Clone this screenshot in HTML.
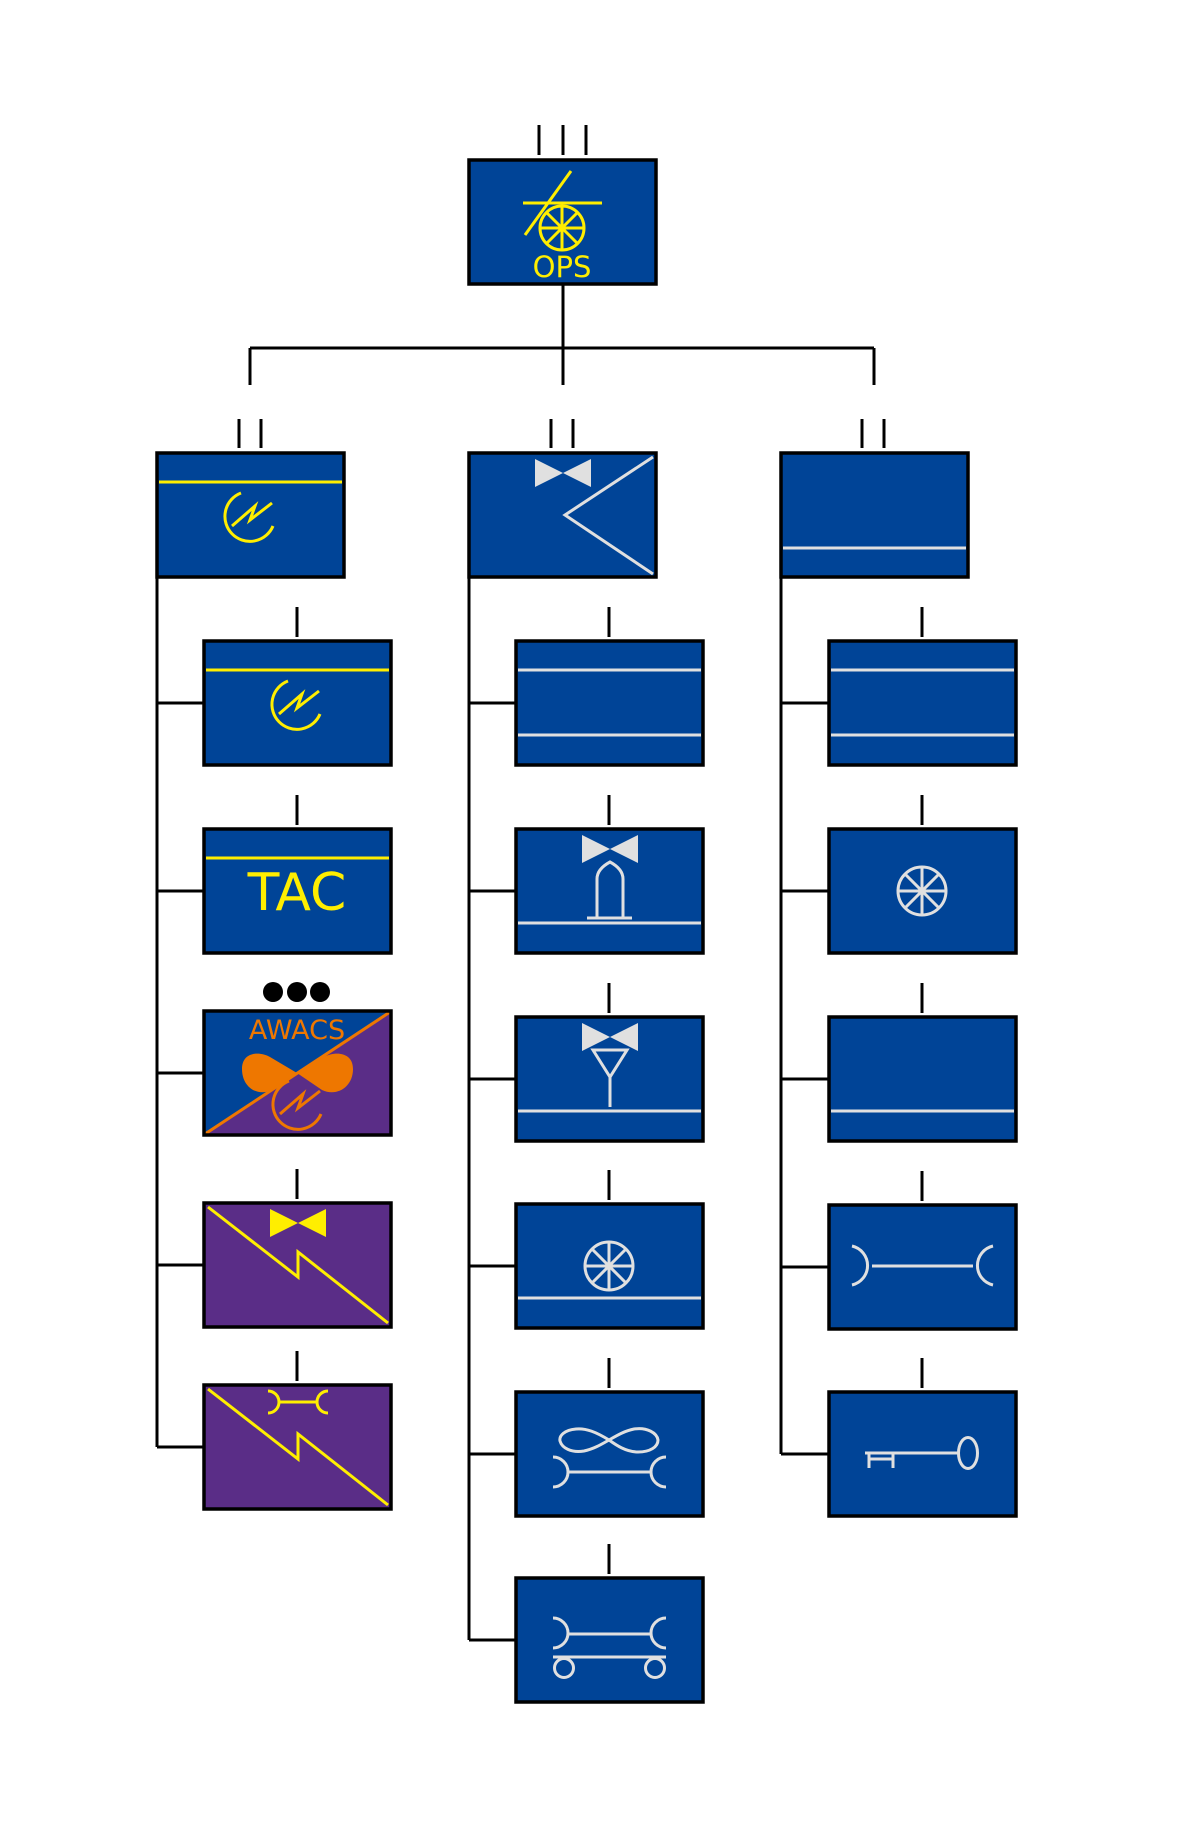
<!DOCTYPE html>
<html><head><meta charset="utf-8"><style>html,body{margin:0;padding:0;background:#fff}svg{display:block}</style></head>
<body>
<svg width="1188" height="1844" viewBox="0 0 1188 1844" xmlns="http://www.w3.org/2000/svg">
<defs>
<g id="ew"><path d="M84,40 A25,25 0 1 0 116,73" fill="none" stroke-width="3"/><path d="M75,73 L98,53 L93,67 L115,50" fill="none" stroke-width="3"/></g>
<g id="wheel"><circle cx="0" cy="0" r="24" fill="none" stroke-width="3"/><path d="M-24,0H24M0,-24V24M-17,-17L17,17M-17,17L17,-17" stroke-width="3"/></g>
<path id="bow" d="M66,6 L66,34 L94,20 Z M122,6 L122,34 L94,20 Z"/>
</defs>
<g stroke="#000" stroke-width="3" fill="none">
<path d="M539,125V155M563,125V155M586,125V155"/>
<path d="M563,284V385M250,348H874M250,348V385M874,348V385"/>
<path d="M239,419V448M261,419V448M551,419V448M573,419V448M862,419V448M884,419V448"/>
<path d="M157,578V1447M469,578V1640M781,578V1454"/>
<path d="M157,703H204M157,891H204M157,1073H204M157,1265H204M157,1447H204"/>
<path d="M469,703H516M469,891H516M469,1079H516M469,1266H516M469,1454H516M469,1640H516"/>
<path d="M781,703H829M781,891H829M781,1079H829M781,1267H829M781,1454H829"/>
<path d="M297,607V637M297,795V825M297,1169V1199M297,1351V1381"/>
<path d="M609,607V637M609,795V825M609,983V1013M609,1170V1200M609,1358V1388M609,1544V1574"/>
<path d="M922,607V637M922,795V825M922,983V1013M922,1171V1201M922,1358V1388"/>
</g>
<circle cx="273" cy="992" r="10"/><circle cx="297" cy="992" r="10"/><circle cx="320" cy="992" r="10"/>

<g transform="translate(469,160)">
<rect x="0" y="0" width="187" height="124" fill="#004497" stroke="#000" stroke-width="3.5"/>
<g stroke="#ffee00" stroke-width="3"><path d="M54,43H133M56,75L102,11"/></g>
<g transform="translate(93,68)" stroke="#ffee00"><circle r="22" fill="none" stroke-width="3"/><path d="M-22,0H22M0,-22V22M-15.5,-15.5L15.5,15.5M-15.5,15.5L15.5,-15.5" stroke-width="3"/></g>
<text x="93" y="117" text-anchor="middle" font-family="DejaVu Sans, sans-serif" font-size="29" fill="#ffee00">OPS</text>
</g>

<g transform="translate(157,453)">
<rect width="187" height="124" fill="#004497" stroke="#000" stroke-width="3.5"/>
<path d="M2,29H185" stroke="#ffee00" stroke-width="3"/>
<use href="#ew" stroke="#ffee00"/>
</g>
<g transform="translate(469,453)">
<rect width="187" height="124" fill="#004497" stroke="#000" stroke-width="3.5"/>
<use href="#bow" fill="#e0e0e0"/>
<path d="M184,4L96,62L184,121" fill="none" stroke="#e0e0e0" stroke-width="3"/>
</g>
<g transform="translate(781,453)">
<rect width="187" height="124" fill="#004497" stroke="#000" stroke-width="3.5"/>
<path d="M2,95H185" stroke="#e0e0e0" stroke-width="3"/>
</g>

<g transform="translate(204,641)">
<rect width="187" height="124" fill="#004497" stroke="#000" stroke-width="3.5"/>
<path d="M2,29H185" stroke="#ffee00" stroke-width="3"/>
<use href="#ew" stroke="#ffee00"/>
</g>
<g transform="translate(204,829)">
<rect width="187" height="124" fill="#004497" stroke="#000" stroke-width="3.5"/>
<path d="M2,29H185" stroke="#ffee00" stroke-width="3"/>
<text x="93" y="81" text-anchor="middle" font-family="DejaVu Sans, sans-serif" font-size="52" fill="#ffee00">TAC</text>
</g>
<g transform="translate(204,1011)">
<rect width="187" height="124" fill="#5a2d87"/>
<path d="M0,0H187L0,124Z" fill="#004497"/>
<path d="M1,123L186,1" stroke="#ee7700" stroke-width="3"/>
<text x="93" y="28" text-anchor="middle" font-family="DejaVu Sans, sans-serif" font-size="27" fill="#ee7700">AWACS</text>
<path d="M93,62 L66,46 C55,40 38,41 38,58 C38,76 53,86 68,79 Z M93,62 L120,46 C131,40 149,41 149,58 C149,76 133,86 118,79 Z" fill="#ee7700"/>
<g transform="translate(1,30)"><use href="#ew" stroke="#ee7700"/></g>
<rect width="187" height="124" fill="none" stroke="#000" stroke-width="3.5"/>
</g>
<g transform="translate(204,1203)">
<rect width="187" height="124" fill="#5a2d87" stroke="#000" stroke-width="3.5"/>
<path d="M4,4L94,74L94,49L184,120" fill="none" stroke="#ffee00" stroke-width="3"/>
<use href="#bow" fill="#ffee00"/>
</g>
<g transform="translate(204,1385)">
<rect width="187" height="124" fill="#5a2d87" stroke="#000" stroke-width="3.5"/>
<path d="M4,4L94,74L94,49L184,120" fill="none" stroke="#ffee00" stroke-width="3"/>
<path d="M64,6 A11,11 0 0 1 64,28 M124,6 A11,11 0 0 0 124,28 M75,17H113" fill="none" stroke="#ffee00" stroke-width="3"/>
</g>

<g transform="translate(516,641)">
<rect width="187" height="124" fill="#004497" stroke="#000" stroke-width="3.5"/>
<path d="M2,29H185M2,94H185" stroke="#e0e0e0" stroke-width="3"/>
</g>
<g transform="translate(516,829)">
<rect width="187" height="124" fill="#004497" stroke="#000" stroke-width="3.5"/>
<use href="#bow" fill="#e0e0e0"/>
<path d="M81,89V50 Q81,40 94,33 Q107,40 107,50V89 M71,89H116" fill="none" stroke="#e0e0e0" stroke-width="3"/>
<path d="M2,94H185" stroke="#e0e0e0" stroke-width="3"/>
</g>
<g transform="translate(516,1017)">
<rect width="187" height="124" fill="#004497" stroke="#000" stroke-width="3.5"/>
<use href="#bow" fill="#e0e0e0"/>
<path d="M77,33H111L94,60Z M94,60V90" fill="none" stroke="#e0e0e0" stroke-width="3"/>
<path d="M2,94H185" stroke="#e0e0e0" stroke-width="3"/>
</g>
<g transform="translate(516,1204)">
<rect width="187" height="124" fill="#004497" stroke="#000" stroke-width="3.5"/>
<g transform="translate(93,62)" stroke="#e0e0e0"><use href="#wheel"/></g>
<path d="M2,94H185" stroke="#e0e0e0" stroke-width="3"/>
</g>
<g transform="translate(516,1392)">
<rect width="187" height="124" fill="#004497" stroke="#000" stroke-width="3.5"/>
<path d="M93,48 C80,40 70,36 60,37 C48,38 43,44 44,49 C46,56 55,61 68,59 C78,57 86,52 93,48 C100,44 108,39 118,37 C131,35 141,41 142,48 C142,55 134,60 122,60 C110,60 100,53 93,48Z" fill="none" stroke="#e0e0e0" stroke-width="3"/>
<path d="M37,65 A15,15 0 0 1 37,95 M150,65 A15,15 0 0 0 150,95 M52,80H135" fill="none" stroke="#e0e0e0" stroke-width="3"/>
</g>
<g transform="translate(516,1578)">
<rect width="187" height="124" fill="#004497" stroke="#000" stroke-width="3.5"/>
<path d="M37,40 A15,15 0 0 1 37,70 M150,40 A15,15 0 0 0 150,70 M52,56H135 M37,79H150" fill="none" stroke="#e0e0e0" stroke-width="3"/>
<circle cx="48" cy="90" r="9.5" fill="none" stroke="#e0e0e0" stroke-width="3"/>
<circle cx="139" cy="90" r="9.5" fill="none" stroke="#e0e0e0" stroke-width="3"/>
</g>

<g transform="translate(829,641)">
<rect width="187" height="124" fill="#004497" stroke="#000" stroke-width="3.5"/>
<path d="M2,29H185M2,94H185" stroke="#e0e0e0" stroke-width="3"/>
</g>
<g transform="translate(829,829)">
<rect width="187" height="124" fill="#004497" stroke="#000" stroke-width="3.5"/>
<g transform="translate(93,62)" stroke="#e0e0e0"><use href="#wheel"/></g>
</g>
<g transform="translate(829,1017)">
<rect width="187" height="124" fill="#004497" stroke="#000" stroke-width="3.5"/>
<path d="M2,94H185" stroke="#e0e0e0" stroke-width="3"/>
</g>
<g transform="translate(829,1205)">
<rect width="187" height="124" fill="#004497" stroke="#000" stroke-width="3.5"/>
<path d="M23,41 A20,20 0 0 1 23,80 M164,41 A20,20 0 0 0 164,80 M43,61H144" fill="none" stroke="#e0e0e0" stroke-width="3"/>
</g>
<g transform="translate(829,1392)">
<rect width="187" height="124" fill="#004497" stroke="#000" stroke-width="3.5"/>
<path d="M36,61H129 M40,61V76 M64,61V76 M40,67H64" fill="none" stroke="#e0e0e0" stroke-width="3"/>
<ellipse cx="139" cy="61" rx="9.5" ry="15.5" fill="none" stroke="#e0e0e0" stroke-width="3"/>
</g>
</svg>
</body></html>
